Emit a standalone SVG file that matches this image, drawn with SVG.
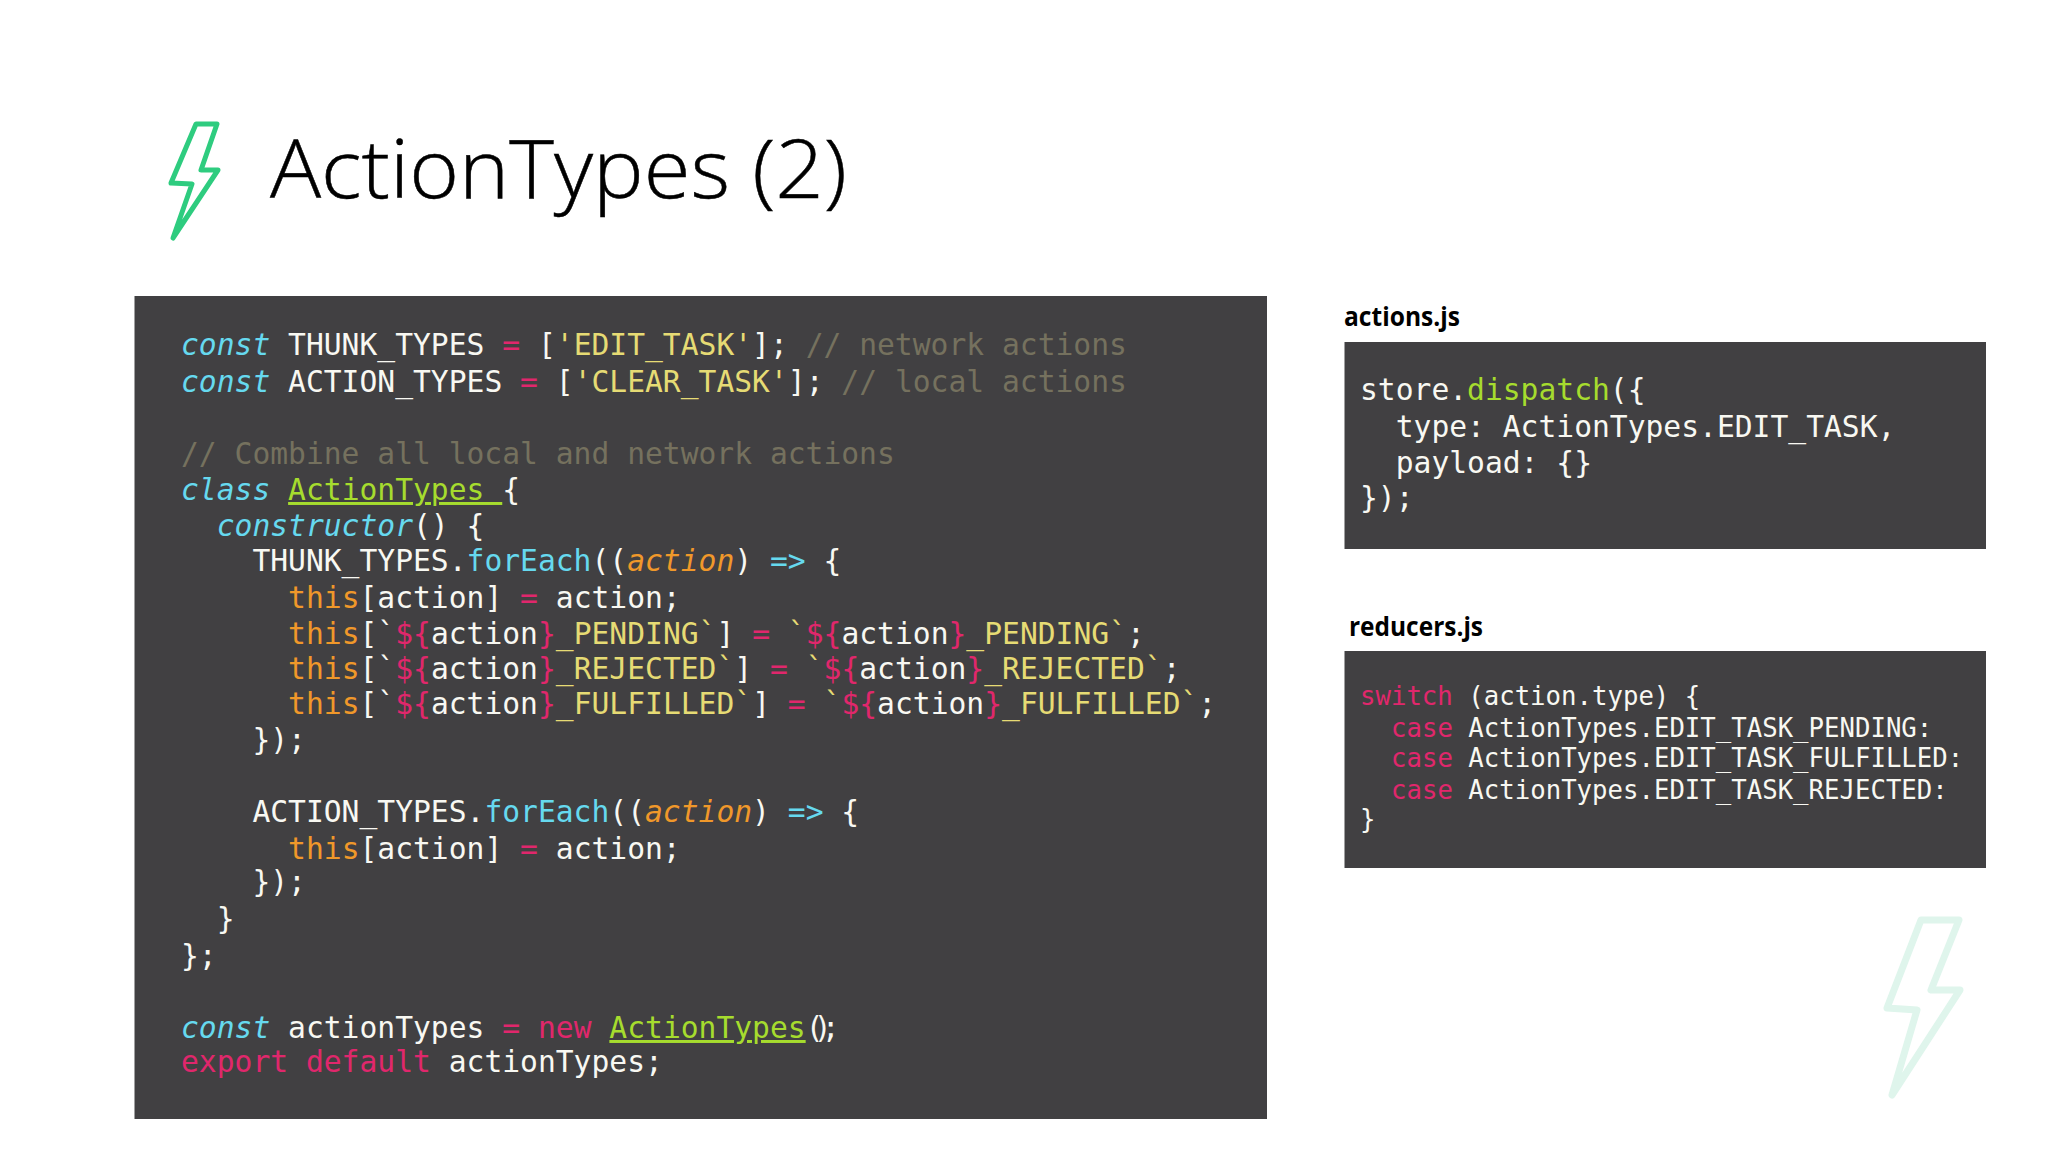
<svg xmlns="http://www.w3.org/2000/svg" width="2048" height="1152" viewBox="0 0 2048 1152">
<style>
.panel{fill:#414042}
.code{font-family:"DejaVu Sans Mono",monospace;font-size:29.65px;fill:#f8f8f2}
.sm{font-size:25.7px}
.i{font-style:italic}
.c{fill:#66d9ef}.p{fill:#e0276c}.y{fill:#e6db74}.g{fill:#a6dc2e}.o{fill:#f0982a}.m{fill:#75715e}
.u{text-decoration:underline}
.n{letter-spacing:-9.8px}
.title{font-family:"Open Sans",sans-serif;font-weight:300;font-size:81.5px;fill:#000;stroke:#000;stroke-width:.5px}
.label{font-family:"Open Sans",sans-serif;font-weight:700;font-size:27px;fill:#000}
.bolt{fill:none;stroke-linejoin:round}
</style>
<rect width="2048" height="1152" fill="#fff"/>
<g id="bolt-top"><polygon class="bolt" stroke="#2ecc7f" stroke-width="5" points="196,124 217,124 201,170 218,170 173,238 192,184 171,183"/></g>
<text id="title" class="title" x="270" y="198" textLength="577" lengthAdjust="spacingAndGlyphs">ActionTypes (2)</text>
<g id="main-code">
<rect class="panel" x="134.5" y="296" width="1132.5" height="823"/>
<g class="code">
<text x="181" y="355"><tspan class="c i">const</tspan> THUNK_TYPES <tspan class="p">=</tspan> [<tspan class="y">'EDIT_TASK'</tspan>]; <tspan class="m">// network actions</tspan></text>
<text x="181" y="392"><tspan class="c i">const</tspan> ACTION_TYPES <tspan class="p">=</tspan> [<tspan class="y">'CLEAR_TASK'</tspan>]; <tspan class="m">// local actions</tspan></text>
<text x="181" y="464" class="m">// Combine all local and network actions</text>
<text x="181" y="500"><tspan class="c i">class</tspan> <tspan class="g u">ActionTypes </tspan>{</text>
<text x="216.7" y="536"><tspan class="c i">constructor</tspan>() {</text>
<text x="252.4" y="571">THUNK_TYPES.<tspan class="c">forEach</tspan>((<tspan class="o i">action</tspan>) <tspan class="c">=&gt;</tspan> {</text>
<text x="288.1" y="608"><tspan class="o">this</tspan>[action] <tspan class="p">=</tspan> action;</text>
<text x="288.1" y="644"><tspan class="o">this</tspan>[`<tspan class="p">${</tspan>action<tspan class="p">}</tspan><tspan class="y">_PENDING`</tspan>] <tspan class="p">=</tspan> <tspan class="y">`</tspan><tspan class="p">${</tspan>action<tspan class="p">}</tspan><tspan class="y">_PENDING`</tspan>;</text>
<text x="288.1" y="679"><tspan class="o">this</tspan>[`<tspan class="p">${</tspan>action<tspan class="p">}</tspan><tspan class="y">_REJECTED`</tspan>] <tspan class="p">=</tspan> <tspan class="y">`</tspan><tspan class="p">${</tspan>action<tspan class="p">}</tspan><tspan class="y">_REJECTED`</tspan>;</text>
<text x="288.1" y="714"><tspan class="o">this</tspan>[`<tspan class="p">${</tspan>action<tspan class="p">}</tspan><tspan class="y">_FULFILLED`</tspan>] <tspan class="p">=</tspan> <tspan class="y">`</tspan><tspan class="p">${</tspan>action<tspan class="p">}</tspan><tspan class="y">_FULFILLED`</tspan>;</text>
<text x="252.4" y="750">});</text>
<text x="252.4" y="822">ACTION_TYPES.<tspan class="c">forEach</tspan>((<tspan class="o i">action</tspan>) <tspan class="c">=&gt;</tspan> {</text>
<text x="288.1" y="859"><tspan class="o">this</tspan>[action] <tspan class="p">=</tspan> action;</text>
<text x="252.4" y="892">});</text>
<text x="216.7" y="929">}</text>
<text x="181" y="966">};</text>
<text x="181" y="1038"><tspan class="c i">const</tspan> actionTypes <tspan class="p">=</tspan> <tspan class="p">new</tspan> <tspan class="g u">ActionTypes</tspan><tspan class="n">();</tspan></text>
<text x="181" y="1072"><tspan class="p">export default</tspan> actionTypes;</text>
</g>
</g>
<g id="actions-js">
<text class="label" x="1344" y="326" textLength="116" lengthAdjust="spacingAndGlyphs">actions.js</text>
<rect class="panel" x="1344.5" y="342" width="641.5" height="207"/>
<g class="code">
<text x="1360" y="400">store.<tspan class="g">dispatch</tspan>({</text>
<text x="1395.7" y="437">type: ActionTypes.EDIT_TASK,</text>
<text x="1395.7" y="473">payload: {}</text>
<text x="1360" y="508">});</text>
</g>
</g>
<g id="reducers-js">
<text class="label" x="1349" y="636" textLength="134" lengthAdjust="spacingAndGlyphs">reducers.js</text>
<rect class="panel" x="1344.5" y="651" width="641.5" height="217"/>
<g class="code sm">
<text x="1360" y="705"><tspan class="p">switch</tspan> (action.type) {</text>
<text x="1391" y="737"><tspan class="p">case</tspan> ActionTypes.EDIT_TASK_PENDING:</text>
<text x="1391" y="767"><tspan class="p">case</tspan> ActionTypes.EDIT_TASK_FULFILLED:</text>
<text x="1391" y="799"><tspan class="p">case</tspan> ActionTypes.EDIT_TASK_REJECTED:</text>
<text x="1360" y="828">}</text>
</g>
</g>
<g id="bolt-bottom"><polygon class="bolt" stroke="#dff5ec" stroke-width="7" points="1921,920 1959,920 1931,990 1960,990 1892,1095 1917,1010 1887,1008"/></g>
</svg>
